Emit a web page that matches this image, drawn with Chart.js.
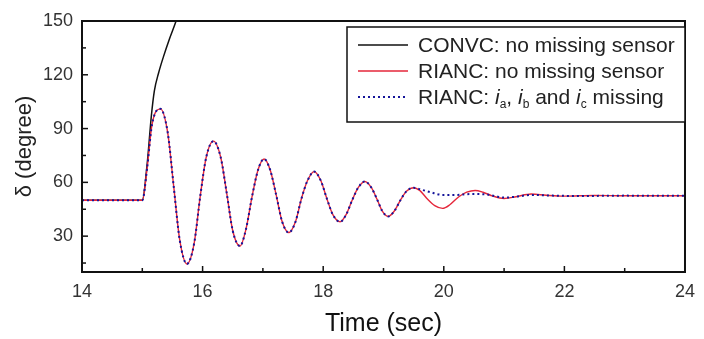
<!DOCTYPE html>
<html>
<head>
<meta charset="utf-8">
<script src="https://cdn.jsdelivr.net/npm/chart.js@4.4.0/dist/chart.umd.min.js"></script>
<style>
  html, body { margin: 0; padding: 0; background: #fff; }
  #wrap { width: 704px; height: 339px; }
</style>
</head>
<body>
<div id="wrap"><canvas id="myChart" width="704" height="339"></canvas></div>
<script>
// time (sec) and rotor angle (degree)
const tConv = [14, 15.0, 15.08, 15.15, 15.2, 15.27, 15.35, 15.45, 15.56, 15.65]
const vConv = [50, 50, 70, 97, 111, 121, 130, 140, 150, 160]

const tRed = [14, 15.0, 15.08, 15.16, 15.3, 15.42, 15.52, 15.62, 15.74, 15.86, 15.96, 16.06, 16.18, 16.3, 16.4, 16.5,
  16.62, 16.72, 16.82, 16.92, 17.02, 17.12, 17.22, 17.32, 17.43, 17.54, 17.64, 17.74, 17.85, 17.96, 18.06, 18.16,
  18.28, 18.38, 18.48, 18.58, 18.69, 18.8, 18.9, 18.98, 19.08, 19.18, 19.28, 19.38, 19.5, 19.6, 19.72, 19.85,
  19.98, 20.1, 20.25, 20.38, 20.52, 20.65, 20.8, 21.0, 21.2, 21.45, 21.7, 22, 22.5, 23, 24]
const vRed = [50, 50, 68, 92, 101, 88, 58, 28, 14.5, 26, 52, 74, 83, 74, 54, 33,
  24.5, 34, 52, 67, 73, 67, 53, 38, 32, 38, 51, 61, 66, 61, 51, 42,
  38, 42, 50, 57, 60.5, 57, 50, 44, 41, 44, 50, 55, 57, 55.5, 51, 47,
  45.5, 47.5, 52, 54.5, 55.5, 54.5, 52.5, 51, 52, 53.5, 52.8, 52.3, 52.7, 52.5, 52.5]

const tBlue = [14, 15.0, 15.08, 15.16, 15.3, 15.42, 15.52, 15.62, 15.74, 15.86, 15.96, 16.06, 16.18, 16.3, 16.4, 16.5,
  16.62, 16.72, 16.82, 16.92, 17.02, 17.12, 17.22, 17.32, 17.43, 17.54, 17.64, 17.74, 17.85, 17.96, 18.06, 18.16,
  18.28, 18.38, 18.48, 18.58, 18.69, 18.8, 18.9, 18.98, 19.08, 19.18, 19.28, 19.38, 19.5, 19.62, 19.78, 19.98,
  20.2, 20.45, 20.7, 20.85, 21.0, 21.2, 21.45, 21.8, 22.3, 23, 24]
const vBlue = [50, 50, 68, 92, 101, 88, 58, 28, 14.5, 26, 52, 74, 83, 74, 54, 33,
  24.5, 34, 52, 67, 73, 67, 53, 38, 32, 38, 51, 61, 66, 61, 51, 42,
  38, 42, 50, 57, 60.5, 57, 50, 44, 41, 44, 50, 55, 57, 56, 54.5, 53,
  53, 53.5, 53.3, 52.3, 51.5, 52, 53, 52.6, 52.4, 52.6, 52.5]

const xTicks = [14, 16, 18, 20, 22, 24]
const yTicks = [30, 60, 90, 120, 150]
const labels = ['CONVC: no missing sensor', 'RIANC: no missing sensor', 'RIANC: i_a, i_b and i_c missing']

const pts = (t, v) => t.map((x, i) => ({x: x, y: v[i]}))

// inward ticks + frame
const frame = {
  id: 'frame',
  afterDatasetsDraw(chart) {
    const {ctx, chartArea: a, scales: {x, y}} = chart
    ctx.save()
    ctx.strokeStyle = '#111'
    ctx.lineWidth = 1.5
    for (let t = 15; t < 24; t++) {
      let px = x.getPixelForValue(t)
      let len = t % 2 === 0 ? 6 : 4
      ctx.beginPath(); ctx.moveTo(px, a.bottom); ctx.lineTo(px, a.bottom - len); ctx.stroke()
    }
    for (let v = 15; v < 150; v += 15) {
      let py = y.getPixelForValue(v)
      let len = v % 30 === 0 ? 6 : 4
      ctx.beginPath(); ctx.moveTo(a.left, py); ctx.lineTo(a.left + len, py); ctx.stroke()
    }
    ctx.lineWidth = 2
    ctx.strokeRect(a.left, a.top, a.right - a.left, a.bottom - a.top)
    ctx.restore()
  }
}

// legend box drawn inside the plot, top right
const legendBox = {
  id: 'legendBox',
  afterDraw(chart) {
    const {ctx, chartArea: a} = chart
    const ds = chart.data.datasets
    const box = {l: 347, t: 27, r: a.right, b: 122}
    ctx.save()
    ctx.fillStyle = '#fff'
    ctx.fillRect(box.l, box.t, box.r - box.l, box.b - box.t)
    ctx.strokeStyle = '#111'
    ctx.lineWidth = 1.5
    ctx.strokeRect(box.l, box.t, box.r - box.l, box.b - box.t)
    const rows = [45, 71, 97]
    const font = '21px "Liberation Sans", Arial, sans-serif'
    ctx.textBaseline = 'middle'
    rows.forEach((ry, i) => {
      const d = ds[i]
      ctx.strokeStyle = d.borderColor
      ctx.lineWidth = d.borderWidth
      ctx.setLineDash(d.borderDash || [])
      ctx.beginPath(); ctx.moveTo(358, ry); ctx.lineTo(408, ry); ctx.stroke()
      ctx.setLineDash([])
      ctx.fillStyle = '#222'
      let xx = 418
      // split on i_x for italic i with subscript
      const parts = d.label.split(/(i_[abc])/)
      parts.forEach(p => {
        if (/^i_[abc]$/.test(p)) {
          ctx.font = 'italic ' + font
          ctx.fillText('i', xx, ry + 1)
          xx += ctx.measureText('i').width
          ctx.font = '12px "Liberation Sans", Arial, sans-serif'
          ctx.fillText(p[2], xx, ry + 8)
          xx += ctx.measureText(p[2]).width
        } else {
          ctx.font = font
          ctx.fillText(p, xx, ry + 1)
          xx += ctx.measureText(p).width
        }
      })
    })
    ctx.restore()
  }
}

const ctx = document.getElementById('myChart').getContext('2d')
const myChart = new Chart(ctx, {
  type: 'line',
  data: {
    datasets: [{
      label: labels[0],
      data: pts(tConv, vConv),
      borderColor: '#111',
      borderWidth: 1.5,
      order: 2
    }, {
      label: labels[1],
      data: pts(tRed, vRed),
      borderColor: '#e5263a',
      borderWidth: 1.4,
      order: 1
    }, {
      label: labels[2],
      data: pts(tBlue, vBlue),
      borderColor: '#15159a',
      borderWidth: 2,
      borderDash: [2, 3],
      order: 0
    }]
  },
  options: {
    responsive: false,
    animation: false,
    elements: {
      point: {radius: 0},
      line: {cubicInterpolationMode: 'monotone', fill: false}
    },
    layout: {padding: {top: 21, right: 12, left: 0, bottom: 0}},
    plugins: {legend: {display: false}, tooltip: {enabled: false}},
    scales: {
      x: {
        type: 'linear',
        min: 14, max: 24,
        afterBuildTicks: s => { s.ticks = xTicks.map(v => ({value: v})) },
        afterFit: s => { s.height = 67 },
        grid: {display: false, drawTicks: false},
        border: {display: false},
        ticks: {color: '#333', padding: 9, maxRotation: 0, font: {size: 18, family: '"Liberation Sans", Arial'}},
        title: {display: true, text: 'Time (sec)', color: '#111', padding: {top: 0, bottom: 0},
          font: {size: 25, family: '"Liberation Sans", Arial'}}
      },
      y: {
        min: 10, max: 150,
        afterBuildTicks: s => { s.ticks = yTicks.map(v => ({value: v})) },
        afterFit: s => { s.width = 82 },
        grid: {display: false, drawTicks: false},
        border: {display: false},
        ticks: {color: '#333', padding: 9, font: {size: 18, family: '"Liberation Sans", Arial'}},
        title: {display: true, text: 'δ (degree)', color: '#222', padding: {top: 12, bottom: 0},
          font: {size: 22, family: '"Liberation Sans", Arial'}}
      }
    }
  },
  plugins: [frame, legendBox]
})
</script>
</body>
</html>
